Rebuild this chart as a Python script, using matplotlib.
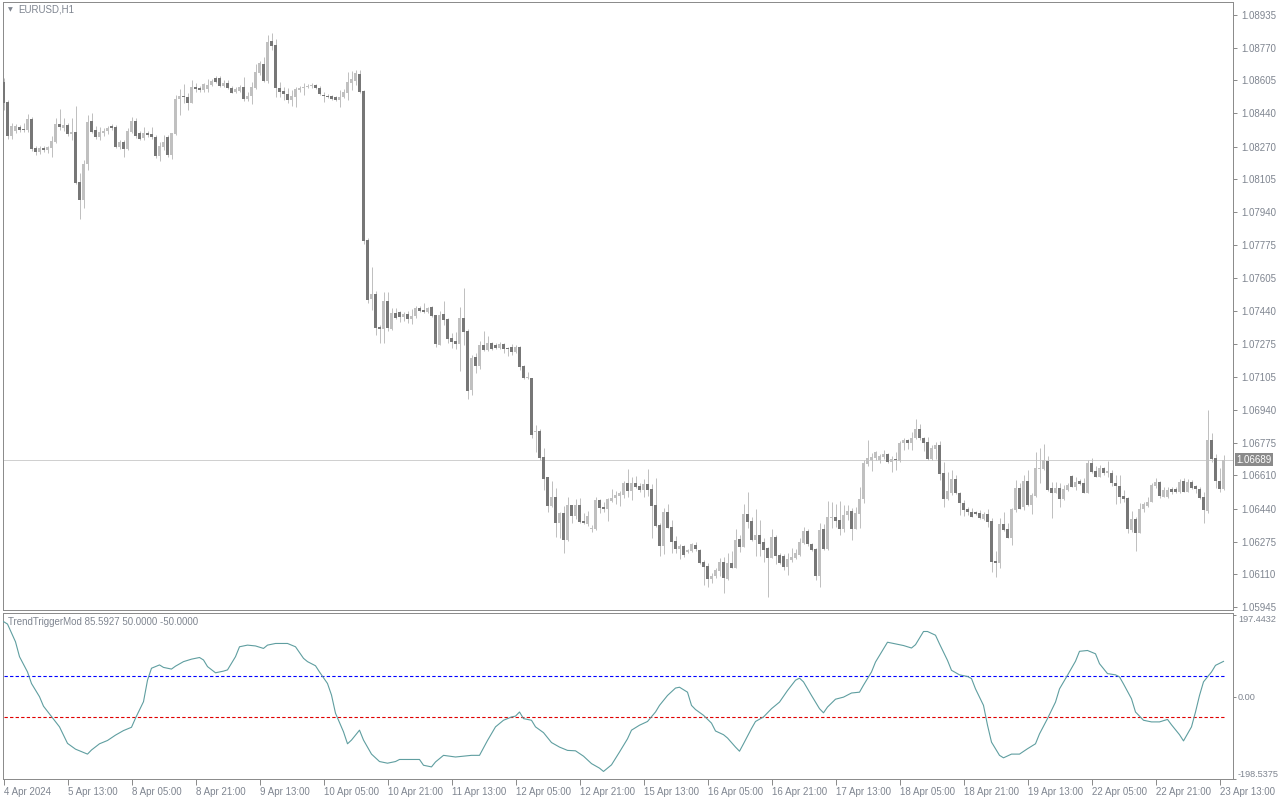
import matplotlib
matplotlib.use('Agg')
import matplotlib.pyplot as plt
from matplotlib.transforms import blended_transform_factory

plt.rcParams['font.family'] = ['Liberation Sans', 'DejaVu Sans']

# EURUSD H1, one entry per bar (4 Apr 21:00 .. 23 Apr 14:00)
bar_open = [
    1.08597, 1.08496, 1.08324, 1.08349, 1.08370, 1.08360, 1.08355, 1.08410, 1.08264, 1.08243,
    1.08264, 1.08254, 1.08264, 1.08294, 1.08385, 1.08365, 1.08380, 1.08334, 1.08344, 1.08092,
    1.08001, 1.08183, 1.08400, 1.08355, 1.08319, 1.08339, 1.08349, 1.08375, 1.08370, 1.08269,
    1.08294, 1.08259, 1.08344, 1.08400, 1.08339, 1.08314, 1.08339, 1.08334, 1.08319, 1.08223,
    1.08269, 1.08319, 1.08228, 1.08334, 1.08511, 1.08526, 1.08521, 1.08491, 1.08572, 1.08567,
    1.08557, 1.08562, 1.08582, 1.08617, 1.08617, 1.08577, 1.08592, 1.08567, 1.08546, 1.08551,
    1.08572, 1.08511, 1.08526, 1.08567, 1.08642, 1.08688, 1.08602, 1.08804, 1.08784, 1.08567,
    1.08551, 1.08536, 1.08506, 1.08521, 1.08557, 1.08567, 1.08572, 1.08575, 1.08582, 1.08567,
    1.08531, 1.08526, 1.08526, 1.08521, 1.08506, 1.08521, 1.08541, 1.08592, 1.08602, 1.08637,
    1.08551, 1.07799, 1.07501, 1.07526, 1.07360, 1.07350, 1.07491, 1.07350, 1.07430, 1.07435,
    1.07410, 1.07425, 1.07400, 1.07415, 1.07456, 1.07446, 1.07435, 1.07461, 1.07420, 1.07269,
    1.07425, 1.07400, 1.07304, 1.07289, 1.07274, 1.07405, 1.07340, 1.07041, 1.07208, 1.07163,
    1.07269, 1.07244, 1.07279, 1.07269, 1.07254, 1.07274, 1.07254, 1.07259, 1.07233, 1.07259,
    1.07163, 1.07102, 1.07102, 1.06829, 1.06834, 1.06703, 1.06602, 1.06456, 1.06501, 1.06370,
    1.06420, 1.06284, 1.06461, 1.06405, 1.06461, 1.06380, 1.06365, 1.06340, 1.06340, 1.06486,
    1.06451, 1.06441, 1.06481, 1.06496, 1.06506, 1.06511, 1.06572, 1.06531, 1.06572, 1.06557,
    1.06536, 1.06567, 1.06541, 1.06461, 1.06360, 1.06254, 1.06425, 1.06350, 1.06279, 1.06239,
    1.06254, 1.06223, 1.06228, 1.06259, 1.06234, 1.06173, 1.06153, 1.06087, 1.06102, 1.06127,
    1.06173, 1.06087, 1.06168, 1.06143, 1.06289, 1.06249, 1.06415, 1.06380, 1.06284, 1.06309,
    1.06274, 1.06244, 1.06193, 1.06299, 1.06208, 1.06203, 1.06148, 1.06183, 1.06193, 1.06208,
    1.06269, 1.06330, 1.06264, 1.06239, 1.06102, 1.06340, 1.06239, 1.06395, 1.06400, 1.06385,
    1.06340, 1.06410, 1.06430, 1.06340, 1.06415, 1.06491, 1.06668, 1.06688, 1.06698, 1.06688,
    1.06703, 1.06718, 1.06678, 1.06693, 1.06683, 1.06774, 1.06789, 1.06774, 1.06799, 1.06845,
    1.06799, 1.06779, 1.06693, 1.06744, 1.06764, 1.06622, 1.06491, 1.06521, 1.06592, 1.06521,
    1.06471, 1.06441, 1.06425, 1.06425, 1.06420, 1.06390, 1.06415, 1.06380, 1.06178, 1.06168,
    1.06365, 1.06340, 1.06294, 1.06435, 1.06547, 1.06451, 1.06582, 1.06461, 1.06506, 1.06642,
    1.06642, 1.06683, 1.06547, 1.06521, 1.06547, 1.06491, 1.06536, 1.06607, 1.06552, 1.06582,
    1.06572, 1.06521, 1.06673, 1.06632, 1.06602, 1.06647, 1.06622, 1.06622, 1.06572, 1.06557,
    1.06506, 1.06496, 1.06335, 1.06390, 1.06320, 1.06441, 1.06456, 1.06476, 1.06557, 1.06577,
    1.06501, 1.06501, 1.06541, 1.06541, 1.06526, 1.06582, 1.06526, 1.06577, 1.06557, 1.06541,
    1.06501, 1.06430, 1.06789, 1.06698, 1.06582, 1.06541,
]
bar_high = [
    1.08617, 1.08506, 1.08390, 1.08385, 1.08380, 1.08390, 1.08435, 1.08420, 1.08274, 1.08274,
    1.08274, 1.08274, 1.08324, 1.08415, 1.08461, 1.08415, 1.08390, 1.08415, 1.08476, 1.08137,
    1.08203, 1.08430, 1.08440, 1.08375, 1.08370, 1.08365, 1.08375, 1.08385, 1.08380, 1.08304,
    1.08304, 1.08365, 1.08420, 1.08415, 1.08349, 1.08370, 1.08349, 1.08370, 1.08329, 1.08294,
    1.08329, 1.08329, 1.08339, 1.08531, 1.08562, 1.08587, 1.08541, 1.08607, 1.08592, 1.08577,
    1.08592, 1.08612, 1.08612, 1.08627, 1.08627, 1.08607, 1.08607, 1.08577, 1.08572, 1.08582,
    1.08622, 1.08546, 1.08597, 1.08688, 1.08703, 1.08723, 1.08834, 1.08844, 1.08814, 1.08597,
    1.08572, 1.08567, 1.08557, 1.08572, 1.08577, 1.08592, 1.08587, 1.08592, 1.08587, 1.08577,
    1.08546, 1.08536, 1.08531, 1.08526, 1.08557, 1.08562, 1.08647, 1.08652, 1.08657, 1.08657,
    1.08557, 1.07809, 1.07663, 1.07541, 1.07370, 1.07536, 1.07536, 1.07456, 1.07456, 1.07440,
    1.07435, 1.07440, 1.07451, 1.07466, 1.07466, 1.07481, 1.07461, 1.07466, 1.07420, 1.07440,
    1.07491, 1.07405, 1.07329, 1.07334, 1.07461, 1.07557, 1.07350, 1.07218, 1.07228, 1.07289,
    1.07340, 1.07314, 1.07284, 1.07279, 1.07284, 1.07279, 1.07259, 1.07274, 1.07269, 1.07264,
    1.07168, 1.07132, 1.07102, 1.06865, 1.06845, 1.06749, 1.06602, 1.06582, 1.06547, 1.06425,
    1.06456, 1.06501, 1.06461, 1.06491, 1.06496, 1.06420, 1.06430, 1.06360, 1.06501, 1.06491,
    1.06476, 1.06496, 1.06541, 1.06531, 1.06531, 1.06582, 1.06642, 1.06602, 1.06607, 1.06572,
    1.06592, 1.06642, 1.06567, 1.06597, 1.06370, 1.06446, 1.06466, 1.06385, 1.06304, 1.06264,
    1.06259, 1.06239, 1.06269, 1.06274, 1.06239, 1.06183, 1.06168, 1.06117, 1.06143, 1.06193,
    1.06198, 1.06218, 1.06228, 1.06340, 1.06309, 1.06466, 1.06526, 1.06400, 1.06441, 1.06385,
    1.06294, 1.06249, 1.06340, 1.06309, 1.06218, 1.06213, 1.06218, 1.06244, 1.06239, 1.06294,
    1.06350, 1.06340, 1.06269, 1.06244, 1.06370, 1.06365, 1.06481, 1.06476, 1.06466, 1.06481,
    1.06461, 1.06461, 1.06446, 1.06451, 1.06552, 1.06688, 1.06789, 1.06723, 1.06733, 1.06718,
    1.06739, 1.06723, 1.06708, 1.06728, 1.06784, 1.06799, 1.06794, 1.06829, 1.06895, 1.06870,
    1.06804, 1.06804, 1.06764, 1.06779, 1.06784, 1.06678, 1.06627, 1.06637, 1.06612, 1.06526,
    1.06486, 1.06451, 1.06446, 1.06430, 1.06435, 1.06425, 1.06441, 1.06395, 1.06228, 1.06395,
    1.06425, 1.06370, 1.06446, 1.06587, 1.06572, 1.06612, 1.06637, 1.06521, 1.06728, 1.06749,
    1.06769, 1.06708, 1.06577, 1.06577, 1.06572, 1.06562, 1.06572, 1.06612, 1.06602, 1.06592,
    1.06597, 1.06688, 1.06698, 1.06657, 1.06663, 1.06652, 1.06683, 1.06637, 1.06612, 1.06612,
    1.06536, 1.06501, 1.06430, 1.06400, 1.06471, 1.06476, 1.06501, 1.06572, 1.06597, 1.06582,
    1.06552, 1.06552, 1.06552, 1.06552, 1.06592, 1.06597, 1.06592, 1.06587, 1.06562, 1.06552,
    1.06526, 1.06941, 1.06824, 1.06718, 1.06647, 1.06713,
]
bar_low = [
    1.08456, 1.08309, 1.08309, 1.08339, 1.08344, 1.08344, 1.08344, 1.08248, 1.08228, 1.08233,
    1.08243, 1.08238, 1.08218, 1.08289, 1.08355, 1.08349, 1.08324, 1.08304, 1.08082, 1.07905,
    1.07961, 1.08152, 1.08339, 1.08309, 1.08304, 1.08324, 1.08334, 1.08355, 1.08264, 1.08259,
    1.08218, 1.08254, 1.08339, 1.08314, 1.08304, 1.08304, 1.08319, 1.08309, 1.08213, 1.08198,
    1.08254, 1.08218, 1.08208, 1.08329, 1.08430, 1.08491, 1.08456, 1.08491, 1.08546, 1.08546,
    1.08546, 1.08546, 1.08577, 1.08592, 1.08572, 1.08572, 1.08562, 1.08541, 1.08541, 1.08546,
    1.08501, 1.08501, 1.08486, 1.08562, 1.08632, 1.08597, 1.08592, 1.08759, 1.08521, 1.08521,
    1.08506, 1.08491, 1.08476, 1.08471, 1.08546, 1.08531, 1.08567, 1.08567, 1.08562, 1.08531,
    1.08496, 1.08516, 1.08506, 1.08501, 1.08471, 1.08516, 1.08506, 1.08557, 1.08582, 1.08541,
    1.07779, 1.07481, 1.07446, 1.07319, 1.07279, 1.07279, 1.07340, 1.07345, 1.07400, 1.07385,
    1.07390, 1.07380, 1.07375, 1.07405, 1.07435, 1.07430, 1.07430, 1.07410, 1.07259, 1.07269,
    1.07370, 1.07279, 1.07254, 1.07249, 1.07138, 1.07269, 1.06996, 1.07016, 1.07127, 1.07148,
    1.07238, 1.07238, 1.07244, 1.07249, 1.07249, 1.07228, 1.07213, 1.07218, 1.07228, 1.07143,
    1.07097, 1.07097, 1.06799, 1.06728, 1.06688, 1.06537, 1.06425, 1.06451, 1.06299, 1.06294,
    1.06218, 1.06279, 1.06370, 1.06390, 1.06370, 1.06365, 1.06355, 1.06324, 1.06335, 1.06420,
    1.06425, 1.06380, 1.06476, 1.06466, 1.06456, 1.06496, 1.06501, 1.06486, 1.06547, 1.06526,
    1.06501, 1.06506, 1.06294, 1.06350, 1.06203, 1.06213, 1.06345, 1.06218, 1.06218, 1.06188,
    1.06198, 1.06218, 1.06223, 1.06228, 1.06163, 1.06057, 1.06047, 1.06067, 1.06092, 1.06102,
    1.06016, 1.06082, 1.06143, 1.06143, 1.06223, 1.06249, 1.06345, 1.06279, 1.06203, 1.06203,
    1.06173, 1.05996, 1.06193, 1.06163, 1.06163, 1.06132, 1.06107, 1.06173, 1.06188, 1.06203,
    1.06264, 1.06254, 1.06228, 1.06082, 1.06047, 1.06234, 1.06234, 1.06345, 1.06350, 1.06309,
    1.06324, 1.06385, 1.06284, 1.06340, 1.06345, 1.06471, 1.06658, 1.06632, 1.06688, 1.06673,
    1.06693, 1.06673, 1.06627, 1.06637, 1.06678, 1.06739, 1.06744, 1.06739, 1.06794, 1.06789,
    1.06734, 1.06688, 1.06688, 1.06693, 1.06587, 1.06451, 1.06486, 1.06511, 1.06516, 1.06410,
    1.06405, 1.06410, 1.06400, 1.06410, 1.06390, 1.06385, 1.06350, 1.06122, 1.06097, 1.06143,
    1.06330, 1.06294, 1.06259, 1.06425, 1.06441, 1.06435, 1.06456, 1.06415, 1.06501, 1.06572,
    1.06637, 1.06531, 1.06395, 1.06521, 1.06451, 1.06486, 1.06531, 1.06552, 1.06536, 1.06562,
    1.06521, 1.06521, 1.06622, 1.06602, 1.06602, 1.06612, 1.06602, 1.06557, 1.06466, 1.06471,
    1.06476, 1.06320, 1.06324, 1.06228, 1.06320, 1.06425, 1.06451, 1.06476, 1.06547, 1.06496,
    1.06501, 1.06496, 1.06516, 1.06521, 1.06521, 1.06526, 1.06526, 1.06541, 1.06521, 1.06491,
    1.06370, 1.06420, 1.06678, 1.06547, 1.06526, 1.06536,
]
bar_close = [
    1.08491, 1.08324, 1.08375, 1.08375, 1.08355, 1.08355, 1.08410, 1.08259, 1.08243, 1.08264,
    1.08254, 1.08269, 1.08299, 1.08385, 1.08370, 1.08380, 1.08334, 1.08344, 1.08087, 1.08001,
    1.08183, 1.08395, 1.08344, 1.08319, 1.08344, 1.08349, 1.08365, 1.08365, 1.08269, 1.08294,
    1.08259, 1.08349, 1.08400, 1.08324, 1.08309, 1.08339, 1.08329, 1.08319, 1.08223, 1.08274,
    1.08294, 1.08228, 1.08339, 1.08511, 1.08526, 1.08521, 1.08491, 1.08572, 1.08562, 1.08557,
    1.08587, 1.08582, 1.08602, 1.08597, 1.08577, 1.08592, 1.08567, 1.08541, 1.08562, 1.08572,
    1.08511, 1.08526, 1.08572, 1.08647, 1.08693, 1.08602, 1.08799, 1.08779, 1.08567, 1.08546,
    1.08536, 1.08506, 1.08526, 1.08562, 1.08567, 1.08572, 1.08577, 1.08577, 1.08567, 1.08536,
    1.08526, 1.08521, 1.08511, 1.08506, 1.08521, 1.08546, 1.08597, 1.08612, 1.08642, 1.08546,
    1.07794, 1.07496, 1.07526, 1.07355, 1.07350, 1.07491, 1.07355, 1.07430, 1.07405, 1.07410,
    1.07425, 1.07400, 1.07415, 1.07456, 1.07440, 1.07435, 1.07456, 1.07415, 1.07274, 1.07420,
    1.07395, 1.07299, 1.07284, 1.07274, 1.07405, 1.07334, 1.07036, 1.07203, 1.07163, 1.07269,
    1.07244, 1.07279, 1.07249, 1.07254, 1.07274, 1.07249, 1.07249, 1.07233, 1.07259, 1.07158,
    1.07102, 1.07107, 1.06814, 1.06834, 1.06698, 1.06592, 1.06456, 1.06501, 1.06370, 1.06420,
    1.06284, 1.06461, 1.06405, 1.06461, 1.06375, 1.06370, 1.06405, 1.06342, 1.06486, 1.06446,
    1.06441, 1.06491, 1.06496, 1.06511, 1.06521, 1.06572, 1.06531, 1.06572, 1.06552, 1.06536,
    1.06567, 1.06536, 1.06456, 1.06355, 1.06254, 1.06425, 1.06345, 1.06274, 1.06239, 1.06254,
    1.06208, 1.06234, 1.06264, 1.06239, 1.06168, 1.06148, 1.06087, 1.06102, 1.06132, 1.06173,
    1.06092, 1.06168, 1.06143, 1.06284, 1.06249, 1.06415, 1.06375, 1.06284, 1.06309, 1.06264,
    1.06234, 1.06193, 1.06299, 1.06203, 1.06168, 1.06148, 1.06188, 1.06198, 1.06218, 1.06274,
    1.06330, 1.06264, 1.06234, 1.06102, 1.06335, 1.06239, 1.06400, 1.06400, 1.06380, 1.06340,
    1.06410, 1.06430, 1.06340, 1.06420, 1.06491, 1.06673, 1.06698, 1.06703, 1.06728, 1.06708,
    1.06718, 1.06678, 1.06693, 1.06688, 1.06774, 1.06789, 1.06774, 1.06799, 1.06845, 1.06799,
    1.06774, 1.06693, 1.06749, 1.06764, 1.06617, 1.06491, 1.06531, 1.06592, 1.06521, 1.06471,
    1.06435, 1.06425, 1.06400, 1.06415, 1.06395, 1.06415, 1.06375, 1.06173, 1.06168, 1.06365,
    1.06335, 1.06294, 1.06441, 1.06547, 1.06441, 1.06582, 1.06461, 1.06511, 1.06647, 1.06647,
    1.06688, 1.06537, 1.06521, 1.06547, 1.06491, 1.06541, 1.06562, 1.06552, 1.06577, 1.06567,
    1.06521, 1.06673, 1.06627, 1.06602, 1.06647, 1.06622, 1.06632, 1.06572, 1.06557, 1.06501,
    1.06491, 1.06340, 1.06390, 1.06320, 1.06441, 1.06466, 1.06476, 1.06562, 1.06577, 1.06506,
    1.06536, 1.06536, 1.06526, 1.06526, 1.06577, 1.06526, 1.06577, 1.06547, 1.06541, 1.06496,
    1.06435, 1.06789, 1.06693, 1.06582, 1.06541, 1.06689,
]

# TrendTriggerMod readings (bar index, value)
tt_bar = [
    0, 1, 3, 4, 6, 7, 8, 9, 10, 12, 14, 16, 18, 21, 22, 24, 26, 28, 30, 32,
    33, 35, 36, 37, 39, 40, 42, 43, 45, 47, 49, 50, 51, 53, 55, 56, 58, 59, 61, 63,
    65, 66, 68, 71, 73, 75, 76, 78, 79, 81, 82, 83, 85, 86, 87, 89, 90, 92, 94, 96,
    98, 99, 104, 105, 107, 108, 110, 113, 117, 119, 121, 123, 125, 127, 128, 129, 130, 132, 133, 135,
    137, 139, 141, 143, 145, 147, 149, 150, 152, 154, 156, 157, 159, 161, 163, 164, 166, 168, 169, 171,
    172, 173, 175, 177, 178, 180, 181, 183, 184, 185, 187, 188, 190, 192, 194, 196, 198, 199, 200, 202,
    204, 205, 206, 208, 210, 212, 214, 215, 217, 218, 220, 221, 223, 225, 227, 228, 230, 231, 233, 234,
    236, 237, 239, 241, 242, 243, 245, 246, 247, 249, 250, 252, 254, 256, 258, 259, 261, 263, 264, 266,
    268, 269, 271, 273, 274, 276, 278, 279, 280, 282, 283, 285, 287, 289, 291, 292, 294, 295, 297, 298,
    299, 300, 302, 303, 305,
]
tt_value = [
    182, 176, 133, 97, 60, 32, 16, 0, -23, -48, -73, -113, -127, -139, -129, -114, -106, -93, -82, -74,
    -52, -12, 40, 69, 77, 71, 67, 74, 85, 91, 95, 89, 73, 58, 62, 65, 97, 121, 125, 123,
    117, 125, 129, 129, 121, 93, 85, 75, 60, 32, 4, -40, -85, -114, -105, -81, -105, -139, -157, -161,
    -157, -152, -152, -166, -170, -158, -142, -146, -142, -142, -106, -73, -57, -49, -47, -37, -53, -57, -73, -87,
    -111, -122, -130, -131, -144, -162, -173, -181, -165, -134, -102, -81, -69, -60, -37, -21, 3, 21, 23, 11,
    -21, -31, -45, -64, -83, -92, -100, -122, -132, -114, -77, -60, -49, -29, -13, 15, 40, 45, 36, 3,
    -29, -39, -25, -6, -1, 9, 11, 28, 60, 84, 116, 132, 128, 124, 118, 126, 158, 158, 149, 128,
    88, 64, 53, 49, 44, 19, -21, -69, -110, -142, -148, -139, -139, -126, -114, -90, -53, -13, 19, 52,
    86, 110, 112, 104, 80, 56, 53, 48, 31, -5, -37, -57, -61, -61, -55, -68, -92, -107, -73, -37,
    3, 36, 60, 76, 85.5927,
]
level_up = 50.0
level_dn = -50.0
tt_max = 197.4432
tt_min = -198.5375
last_price = 1.06689

price_labels = ['1.08935', '1.08770', '1.08605', '1.08440', '1.08270', '1.08105', '1.07940',
                '1.07775', '1.07605', '1.07440', '1.07275', '1.07105', '1.06940', '1.06775',
                '1.06610', '1.06440', '1.06275', '1.06110', '1.05945']
time_labels = ['4 Apr 2024', '5 Apr 13:00', '8 Apr 05:00', '8 Apr 21:00', '9 Apr 13:00',
               '10 Apr 05:00', '10 Apr 21:00', '11 Apr 13:00', '12 Apr 05:00', '12 Apr 21:00',
               '15 Apr 13:00', '16 Apr 05:00', '16 Apr 21:00', '17 Apr 13:00', '18 Apr 05:00',
               '18 Apr 21:00', '19 Apr 13:00', '22 Apr 05:00', '22 Apr 21:00', '23 Apr 13:00']

W, H = 1280, 800
frame_col = '#8c8c8c'
text_col = '#7f8590'
up_col = '#c0c0c0'
dn_col = '#777777'
px = 0.72  # one pixel in points

fig = plt.figure(figsize=(W / 100, H / 100), dpi=100)
fig.patch.set_facecolor('white')
ax = fig.add_axes([3 / W, 1 - 610 / H, 1230 / W, 608 / H])
ax2 = fig.add_axes([3 / W, 1 - 779 / H, 1230 / W, 166 / H])

n = len(bar_close)
xs = list(range(n))
xlim = (-0.125, -0.125 + 1230 / 4)

# candles
body_col = [up_col if c >= o else dn_col for o, c in zip(bar_open, bar_close)]
ax.vlines(xs, bar_low, bar_high, colors=up_col, linewidth=px, zorder=2)
bottoms = [min(o, c) for o, c in zip(bar_open, bar_close)]
heights = [max(abs(c - o), 0.00004) for o, c in zip(bar_open, bar_close)]
ax.bar(xs, heights, bottom=bottoms, width=0.75, color=body_col, linewidth=0, zorder=3)

ax.axhline(last_price, color='#d0d0d0', linewidth=px, zorder=1)
ax.set_xlim(*xlim)
ax.set_ylim(1.059298, 1.090007)
ax.set_xticks([])
ax.yaxis.tick_right()
ax.set_yticks([float(v) for v in price_labels])
ax.set_yticklabels(price_labels)
ax.tick_params(axis='y', direction='out', length=3, width=px, color=frame_col,
               labelcolor=text_col, labelsize=7, pad=3)
for s in ax.spines.values():
    s.set_color(frame_col)
    s.set_linewidth(px)

tr = blended_transform_factory(ax.transAxes, ax.transData)
ax.text(1.0025, last_price, '1.06689', transform=tr, ha='left', va='center', fontsize=7,
        color='white', bbox=dict(boxstyle='square,pad=0.15', facecolor='#8a8a8a', edgecolor='none'),
        zorder=5)
ax.text(15 / 1230, 1 - 8 / 608, 'EURUSD,H1', transform=ax.transAxes, ha='left', va='center',
        fontsize=7, color=text_col)
ax.text(5 / 1230, 1 - 8 / 608, '\u25bc', transform=ax.transAxes, ha='left', va='center',
        fontsize=4.5, color=text_col, family='DejaVu Sans')

# indicator window
ax2.plot(tt_bar, tt_value, color='#5f9ea0', linewidth=0.8, zorder=3)
ax2.plot([0, n - 1], [level_up, level_up], color='#0000ff', linewidth=0.8,
         linestyle=(0, (3, 2)), zorder=2)
ax2.plot([0, n - 1], [level_dn, level_dn], color='#e00000', linewidth=0.8,
         linestyle=(0, (3, 2)), zorder=2)
ax2.set_xlim(*xlim)
ax2.set_ylim(-199.3, 202.8)
ax2.yaxis.tick_right()
ax2.set_yticks([tt_max, 0, tt_min])
ax2.set_yticklabels(['197.4432', '0.00', '-198.5375'])
lab = ax2.get_yticklabels()
lab[0].set_va('top')
lab[2].set_va('bottom')
ax2.tick_params(axis='y', direction='out', length=2, width=px, color=frame_col,
                labelcolor=text_col, labelsize=6.6, pad=1.5)
ax2.set_xticks(list(range(0, n, 16))[:len(time_labels)])
ax2.set_xticklabels(time_labels, ha='left')
ax2.tick_params(axis='x', direction='out', length=4, width=px, color=frame_col,
                labelcolor=text_col, labelsize=7, pad=2)
for s in ax2.spines.values():
    s.set_color(frame_col)
    s.set_linewidth(px)
ax2.text(5 / 1230, 1 - 9 / 166, 'TrendTriggerMod 85.5927 50.0000 -50.0000', transform=ax2.transAxes,
         ha='left', va='center', fontsize=7, color=text_col)

fig.savefig('out.png', dpi=100, facecolor='white')
